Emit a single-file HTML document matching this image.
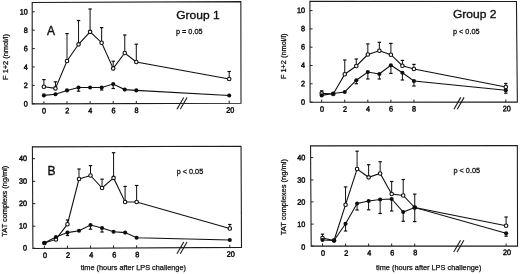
<!DOCTYPE html>
<html><head><meta charset="utf-8"><title>Figure</title>
<style>
html,body{margin:0;padding:0;background:#fff;}
body{width:520px;height:274px;overflow:hidden;}
svg{display:block;}
text{font-family:"Liberation Sans",sans-serif;fill:#111;stroke:#111;stroke-width:0.42px;}
.tk{font-size:7.8px;stroke-width:0.48px;}
.ax{font-size:7.35px;stroke-width:0.25px;}
.p{font-size:7.9px;stroke-width:0.3px;}
.grp{font-size:11.8px;stroke-width:0.34px;}
.lab{font-size:12px;stroke-width:0.38px;}
.ay{font-size:7.2px;stroke-width:0.27px;}
</style></head><body>
<svg width="520" height="274" viewBox="0 0 520 274">
<rect width="520" height="274" fill="#fff"/>
<defs><filter id="soft" x="0" y="0" width="520" height="274" filterUnits="userSpaceOnUse"><feGaussianBlur stdDeviation="0.32"/></filter></defs>
<g filter="url(#soft)">
<polygon points="32.2,2.45 240.85,1.65 241,103.2 32.2,103.9" fill="none" stroke="#1c1c1c" stroke-width="1.08"/>
<line x1="176.95" y1="109.3" x2="183.75" y2="97.5" stroke="#1a1a1a" stroke-width="1.1"/>
<line x1="180.25" y1="109.3" x2="187.05" y2="97.5" stroke="#1a1a1a" stroke-width="1.1"/>
<line x1="32.2" y1="103.8" x2="34.8" y2="103.8" stroke="#222" stroke-width="1"/>
<text transform="translate(27.9,106.5) rotate(0.05) scale(0.93,1)" text-anchor="end" class="tk">0</text>
<line x1="32.2" y1="85.4" x2="34.8" y2="85.4" stroke="#222" stroke-width="1"/>
<text transform="translate(27.9,88.1) rotate(0.05) scale(0.93,1)" text-anchor="end" class="tk">2</text>
<line x1="32.2" y1="67" x2="34.8" y2="67" stroke="#222" stroke-width="1"/>
<text transform="translate(27.9,69.7) rotate(0.05) scale(0.93,1)" text-anchor="end" class="tk">4</text>
<line x1="32.2" y1="48.6" x2="34.8" y2="48.6" stroke="#222" stroke-width="1"/>
<text transform="translate(27.9,51.3) rotate(0.05) scale(0.93,1)" text-anchor="end" class="tk">6</text>
<line x1="32.2" y1="30.2" x2="34.8" y2="30.2" stroke="#222" stroke-width="1"/>
<text transform="translate(27.9,32.9) rotate(0.05) scale(0.93,1)" text-anchor="end" class="tk">8</text>
<line x1="32.2" y1="11.8" x2="34.8" y2="11.8" stroke="#222" stroke-width="1"/>
<text transform="translate(27.9,14.5) rotate(0.05) scale(0.93,1)" text-anchor="end" class="tk">10</text>
<line x1="43.9" y1="103.86" x2="43.9" y2="101.26" stroke="#222" stroke-width="1"/>
<text transform="translate(44.1,113.41) rotate(0.05) scale(0.93,1)" text-anchor="middle" class="tk">0</text>
<line x1="67" y1="103.78" x2="67" y2="101.18" stroke="#222" stroke-width="1"/>
<text transform="translate(67.2,113.33) rotate(0.05) scale(0.93,1)" text-anchor="middle" class="tk">2</text>
<line x1="90.1" y1="103.71" x2="90.1" y2="101.11" stroke="#222" stroke-width="1"/>
<text transform="translate(90.3,113.26) rotate(0.05) scale(0.93,1)" text-anchor="middle" class="tk">4</text>
<line x1="113.2" y1="103.63" x2="113.2" y2="101.03" stroke="#222" stroke-width="1"/>
<text transform="translate(113.4,113.18) rotate(0.05) scale(0.93,1)" text-anchor="middle" class="tk">6</text>
<line x1="136.3" y1="103.55" x2="136.3" y2="100.95" stroke="#222" stroke-width="1"/>
<text transform="translate(136.5,113.1) rotate(0.05) scale(0.93,1)" text-anchor="middle" class="tk">8</text>
<line x1="229.2" y1="103.24" x2="229.2" y2="100.64" stroke="#222" stroke-width="1"/>
<text transform="translate(230.2,112.79) rotate(0.05) scale(0.93,1)" text-anchor="middle" class="tk">20</text>
<line x1="43.9" y1="86.7" x2="43.9" y2="79.6" stroke="#111" stroke-width="1.0"/>
<line x1="42.2" y1="79.6" x2="45.6" y2="79.6" stroke="#111" stroke-width="1.2"/>
<line x1="55.45" y1="88.4" x2="55.45" y2="81.8" stroke="#111" stroke-width="1.0"/>
<line x1="53.75" y1="81.8" x2="57.15" y2="81.8" stroke="#111" stroke-width="1.2"/>
<line x1="67" y1="61" x2="67" y2="33.6" stroke="#111" stroke-width="1.0"/>
<line x1="65.3" y1="33.6" x2="68.7" y2="33.6" stroke="#111" stroke-width="1.2"/>
<line x1="78.55" y1="44.3" x2="78.55" y2="20.5" stroke="#111" stroke-width="1.0"/>
<line x1="76.85" y1="20.5" x2="80.25" y2="20.5" stroke="#111" stroke-width="1.2"/>
<line x1="90.1" y1="31.8" x2="90.1" y2="9" stroke="#111" stroke-width="1.0"/>
<line x1="88.4" y1="9" x2="91.8" y2="9" stroke="#111" stroke-width="1.2"/>
<line x1="101.65" y1="42.7" x2="101.65" y2="27.6" stroke="#111" stroke-width="1.0"/>
<line x1="99.95" y1="27.6" x2="103.35" y2="27.6" stroke="#111" stroke-width="1.2"/>
<line x1="113.2" y1="68.4" x2="113.2" y2="61.3" stroke="#111" stroke-width="1.0"/>
<line x1="111.5" y1="61.3" x2="114.9" y2="61.3" stroke="#111" stroke-width="1.2"/>
<line x1="124.75" y1="53" x2="124.75" y2="35" stroke="#111" stroke-width="1.0"/>
<line x1="123.05" y1="35" x2="126.45" y2="35" stroke="#111" stroke-width="1.2"/>
<line x1="136.3" y1="62" x2="136.3" y2="44.2" stroke="#111" stroke-width="1.0"/>
<line x1="134.6" y1="44.2" x2="138" y2="44.2" stroke="#111" stroke-width="1.2"/>
<line x1="229.2" y1="79" x2="229.2" y2="71.5" stroke="#111" stroke-width="1.0"/>
<line x1="227.5" y1="71.5" x2="230.9" y2="71.5" stroke="#111" stroke-width="1.2"/>
<polyline points="43.9,86.7 55.45,88.4 67,61 78.55,44.3 90.1,31.8 101.65,42.7 113.2,68.4 124.75,53 136.3,62 229.2,79" fill="none" stroke="#111" stroke-width="1.08"/>
<circle cx="43.9" cy="86.7" r="1.75" fill="#fff" stroke="#111" stroke-width="1.15"/>
<circle cx="55.45" cy="88.4" r="1.75" fill="#fff" stroke="#111" stroke-width="1.15"/>
<circle cx="67" cy="61" r="1.75" fill="#fff" stroke="#111" stroke-width="1.15"/>
<circle cx="78.55" cy="44.3" r="1.75" fill="#fff" stroke="#111" stroke-width="1.15"/>
<circle cx="90.1" cy="31.8" r="1.75" fill="#fff" stroke="#111" stroke-width="1.15"/>
<circle cx="101.65" cy="42.7" r="1.75" fill="#fff" stroke="#111" stroke-width="1.15"/>
<circle cx="113.2" cy="68.4" r="1.75" fill="#fff" stroke="#111" stroke-width="1.15"/>
<circle cx="124.75" cy="53" r="1.75" fill="#fff" stroke="#111" stroke-width="1.15"/>
<circle cx="136.3" cy="62" r="1.75" fill="#fff" stroke="#111" stroke-width="1.15"/>
<circle cx="229.2" cy="79" r="1.75" fill="#fff" stroke="#111" stroke-width="1.15"/>
<line x1="78.55" y1="87.5" x2="78.55" y2="91.2" stroke="#111" stroke-width="1.0"/>
<line x1="76.85" y1="91.2" x2="80.25" y2="91.2" stroke="#111" stroke-width="1.2"/>
<line x1="101.65" y1="87.5" x2="101.65" y2="90" stroke="#111" stroke-width="1.0"/>
<line x1="99.95" y1="90" x2="103.35" y2="90" stroke="#111" stroke-width="1.2"/>
<line x1="113.2" y1="84.1" x2="113.2" y2="88.5" stroke="#111" stroke-width="1.0"/>
<line x1="111.5" y1="88.5" x2="114.9" y2="88.5" stroke="#111" stroke-width="1.2"/>
<polyline points="43.9,95.4 55.45,94.3 67,90.4 78.55,87.5 90.1,87.5 101.65,87.5 113.2,84.1 124.75,89.6 136.3,90.4 229.2,95.5" fill="none" stroke="#111" stroke-width="1.08"/>
<circle cx="43.9" cy="95.4" r="2.05" fill="#111"/>
<circle cx="55.45" cy="94.3" r="2.05" fill="#111"/>
<circle cx="67" cy="90.4" r="2.05" fill="#111"/>
<circle cx="78.55" cy="87.5" r="2.05" fill="#111"/>
<circle cx="90.1" cy="87.5" r="2.05" fill="#111"/>
<circle cx="101.65" cy="87.5" r="2.05" fill="#111"/>
<circle cx="113.2" cy="84.1" r="2.05" fill="#111"/>
<circle cx="124.75" cy="89.6" r="2.05" fill="#111"/>
<circle cx="136.3" cy="90.4" r="2.05" fill="#111"/>
<circle cx="229.2" cy="95.5" r="2.05" fill="#111"/>
<text x="176.2" y="18.6" class="grp" textLength="43.4" lengthAdjust="spacingAndGlyphs">Group 1</text>
<text x="176" y="34" class="p" textLength="26.5" lengthAdjust="spacingAndGlyphs">p = 0.05</text>
<text x="46.9" y="34.5" class="lab">A</text>
<text transform="translate(7.6,57) rotate(-90)" text-anchor="middle" class="ay" style="font-size:7.42px">F 1+2 (nmol/l)</text>
<polygon points="309.9,1.35 516.45,1.55 517.35,102.15 310.1,102.3" fill="none" stroke="#1c1c1c" stroke-width="1.08"/>
<line x1="453.95" y1="109.19" x2="460.75" y2="97.39" stroke="#1a1a1a" stroke-width="1.1"/>
<line x1="457.25" y1="109.19" x2="464.05" y2="97.39" stroke="#1a1a1a" stroke-width="1.1"/>
<line x1="310.1" y1="102.1" x2="312.7" y2="102.1" stroke="#222" stroke-width="1"/>
<text transform="translate(305,104.7) rotate(0.05) scale(0.93,1)" text-anchor="end" class="tk">0</text>
<line x1="310.06" y1="83.8" x2="312.66" y2="83.8" stroke="#222" stroke-width="1"/>
<text transform="translate(305,86.3) rotate(0.05) scale(0.93,1)" text-anchor="end" class="tk">2</text>
<line x1="310.03" y1="65.5" x2="312.63" y2="65.5" stroke="#222" stroke-width="1"/>
<text transform="translate(305,67.8) rotate(0.05) scale(0.93,1)" text-anchor="end" class="tk">4</text>
<line x1="309.99" y1="47.2" x2="312.59" y2="47.2" stroke="#222" stroke-width="1"/>
<text transform="translate(305,49.5) rotate(0.05) scale(0.93,1)" text-anchor="end" class="tk">6</text>
<line x1="309.95" y1="28.9" x2="312.55" y2="28.9" stroke="#222" stroke-width="1"/>
<text transform="translate(305,31.2) rotate(0.05) scale(0.93,1)" text-anchor="end" class="tk">8</text>
<line x1="309.92" y1="10.6" x2="312.52" y2="10.6" stroke="#222" stroke-width="1"/>
<text transform="translate(305,12.9) rotate(0.05) scale(0.93,1)" text-anchor="end" class="tk">10</text>
<line x1="321.7" y1="102.29" x2="321.7" y2="99.69" stroke="#222" stroke-width="1"/>
<text transform="translate(321.9,111.72) rotate(0.05) scale(0.93,1)" text-anchor="middle" class="tk">0</text>
<line x1="344.76" y1="102.27" x2="344.76" y2="99.67" stroke="#222" stroke-width="1"/>
<text transform="translate(344.96,111.67) rotate(0.05) scale(0.93,1)" text-anchor="middle" class="tk">2</text>
<line x1="367.82" y1="102.26" x2="367.82" y2="99.66" stroke="#222" stroke-width="1"/>
<text transform="translate(368.02,111.61) rotate(0.05) scale(0.93,1)" text-anchor="middle" class="tk">4</text>
<line x1="390.88" y1="102.24" x2="390.88" y2="99.64" stroke="#222" stroke-width="1"/>
<text transform="translate(391.08,111.56) rotate(0.05) scale(0.93,1)" text-anchor="middle" class="tk">6</text>
<line x1="413.94" y1="102.22" x2="413.94" y2="99.62" stroke="#222" stroke-width="1"/>
<text transform="translate(414.14,111.5) rotate(0.05) scale(0.93,1)" text-anchor="middle" class="tk">8</text>
<line x1="505.8" y1="102.16" x2="505.8" y2="99.56" stroke="#222" stroke-width="1"/>
<text transform="translate(506.8,111.28) rotate(0.05) scale(0.93,1)" text-anchor="middle" class="tk">20</text>
<line x1="321.7" y1="93.4" x2="321.7" y2="90.8" stroke="#111" stroke-width="1.0"/>
<line x1="320" y1="90.8" x2="323.4" y2="90.8" stroke="#111" stroke-width="1.2"/>
<line x1="344.76" y1="74.2" x2="344.76" y2="60" stroke="#111" stroke-width="1.0"/>
<line x1="343.06" y1="60" x2="346.46" y2="60" stroke="#111" stroke-width="1.2"/>
<line x1="356.29" y1="66" x2="356.29" y2="59" stroke="#111" stroke-width="1.0"/>
<line x1="354.59" y1="59" x2="357.99" y2="59" stroke="#111" stroke-width="1.2"/>
<line x1="367.82" y1="54.5" x2="367.82" y2="43.9" stroke="#111" stroke-width="1.0"/>
<line x1="366.12" y1="43.9" x2="369.52" y2="43.9" stroke="#111" stroke-width="1.2"/>
<line x1="379.35" y1="50.7" x2="379.35" y2="42.3" stroke="#111" stroke-width="1.0"/>
<line x1="377.65" y1="42.3" x2="381.05" y2="42.3" stroke="#111" stroke-width="1.2"/>
<line x1="390.88" y1="54.7" x2="390.88" y2="43.4" stroke="#111" stroke-width="1.0"/>
<line x1="389.18" y1="43.4" x2="392.58" y2="43.4" stroke="#111" stroke-width="1.2"/>
<line x1="402.41" y1="65.7" x2="402.41" y2="60.4" stroke="#111" stroke-width="1.0"/>
<line x1="400.71" y1="60.4" x2="404.11" y2="60.4" stroke="#111" stroke-width="1.2"/>
<line x1="413.94" y1="69" x2="413.94" y2="64.4" stroke="#111" stroke-width="1.0"/>
<line x1="412.24" y1="64.4" x2="415.64" y2="64.4" stroke="#111" stroke-width="1.2"/>
<line x1="505.8" y1="87" x2="505.8" y2="83.5" stroke="#111" stroke-width="1.0"/>
<line x1="504.1" y1="83.5" x2="507.5" y2="83.5" stroke="#111" stroke-width="1.2"/>
<polyline points="321.7,93.4 333.23,94 344.76,74.2 356.29,66 367.82,54.5 379.35,50.7 390.88,54.7 402.41,65.7 413.94,69 505.8,87" fill="none" stroke="#111" stroke-width="1.08"/>
<circle cx="321.7" cy="93.4" r="1.75" fill="#fff" stroke="#111" stroke-width="1.15"/>
<circle cx="333.23" cy="94" r="1.75" fill="#fff" stroke="#111" stroke-width="1.15"/>
<circle cx="344.76" cy="74.2" r="1.75" fill="#fff" stroke="#111" stroke-width="1.15"/>
<circle cx="356.29" cy="66" r="1.75" fill="#fff" stroke="#111" stroke-width="1.15"/>
<circle cx="367.82" cy="54.5" r="1.75" fill="#fff" stroke="#111" stroke-width="1.15"/>
<circle cx="379.35" cy="50.7" r="1.75" fill="#fff" stroke="#111" stroke-width="1.15"/>
<circle cx="390.88" cy="54.7" r="1.75" fill="#fff" stroke="#111" stroke-width="1.15"/>
<circle cx="402.41" cy="65.7" r="1.75" fill="#fff" stroke="#111" stroke-width="1.15"/>
<circle cx="413.94" cy="69" r="1.75" fill="#fff" stroke="#111" stroke-width="1.15"/>
<circle cx="505.8" cy="87" r="1.75" fill="#fff" stroke="#111" stroke-width="1.15"/>
<line x1="356.29" y1="80.2" x2="356.29" y2="83.7" stroke="#111" stroke-width="1.0"/>
<line x1="354.59" y1="83.7" x2="357.99" y2="83.7" stroke="#111" stroke-width="1.2"/>
<line x1="367.82" y1="72" x2="367.82" y2="79" stroke="#111" stroke-width="1.0"/>
<line x1="366.12" y1="79" x2="369.52" y2="79" stroke="#111" stroke-width="1.2"/>
<line x1="379.35" y1="74" x2="379.35" y2="79" stroke="#111" stroke-width="1.0"/>
<line x1="377.65" y1="79" x2="381.05" y2="79" stroke="#111" stroke-width="1.2"/>
<line x1="390.88" y1="65.2" x2="390.88" y2="73.4" stroke="#111" stroke-width="1.0"/>
<line x1="389.18" y1="73.4" x2="392.58" y2="73.4" stroke="#111" stroke-width="1.2"/>
<line x1="402.41" y1="72.8" x2="402.41" y2="80" stroke="#111" stroke-width="1.0"/>
<line x1="400.71" y1="80" x2="404.11" y2="80" stroke="#111" stroke-width="1.2"/>
<line x1="413.94" y1="81" x2="413.94" y2="86" stroke="#111" stroke-width="1.0"/>
<line x1="412.24" y1="86" x2="415.64" y2="86" stroke="#111" stroke-width="1.2"/>
<line x1="505.8" y1="90.3" x2="505.8" y2="93.2" stroke="#111" stroke-width="1.0"/>
<line x1="504.1" y1="93.2" x2="507.5" y2="93.2" stroke="#111" stroke-width="1.2"/>
<polyline points="321.7,95.4 333.23,93.5 344.76,92 356.29,80.2 367.82,72 379.35,74 390.88,65.2 402.41,72.8 413.94,81 505.8,90.3" fill="none" stroke="#111" stroke-width="1.08"/>
<circle cx="321.7" cy="95.4" r="2.05" fill="#111"/>
<circle cx="333.23" cy="93.5" r="2.05" fill="#111"/>
<circle cx="344.76" cy="92" r="2.05" fill="#111"/>
<circle cx="356.29" cy="80.2" r="2.05" fill="#111"/>
<circle cx="367.82" cy="72" r="2.05" fill="#111"/>
<circle cx="379.35" cy="74" r="2.05" fill="#111"/>
<circle cx="390.88" cy="65.2" r="2.05" fill="#111"/>
<circle cx="402.41" cy="72.8" r="2.05" fill="#111"/>
<circle cx="413.94" cy="81" r="2.05" fill="#111"/>
<circle cx="505.8" cy="90.3" r="2.05" fill="#111"/>
<text x="452.9" y="18.0" class="grp" textLength="43.6" lengthAdjust="spacingAndGlyphs">Group 2</text>
<text x="453" y="33.5" class="p" textLength="26.5" lengthAdjust="spacingAndGlyphs">p &lt; 0.05</text>
<text transform="translate(285.8,56.3) rotate(-90)" text-anchor="middle" class="ay" style="font-size:7.36px">F 1+2 (nmol/l)</text>
<polygon points="32.4,146.9 241.05,146.25 241.5,247.4 32.9,248.5" fill="none" stroke="#1c1c1c" stroke-width="1.08"/>
<line x1="176.95" y1="253.81" x2="183.75" y2="242.01" stroke="#1a1a1a" stroke-width="1.1"/>
<line x1="180.25" y1="253.81" x2="187.05" y2="242.01" stroke="#1a1a1a" stroke-width="1.1"/>
<line x1="32.9" y1="248.2" x2="35.5" y2="248.2" stroke="#222" stroke-width="1"/>
<text transform="translate(27,250.6) rotate(0.05) scale(0.93,1)" text-anchor="end" class="tk">0</text>
<line x1="32.79" y1="226.2" x2="35.39" y2="226.2" stroke="#222" stroke-width="1"/>
<text transform="translate(27,228.6) rotate(0.05) scale(0.93,1)" text-anchor="end" class="tk">10</text>
<line x1="32.68" y1="203.6" x2="35.28" y2="203.6" stroke="#222" stroke-width="1"/>
<text transform="translate(27,206) rotate(0.05) scale(0.93,1)" text-anchor="end" class="tk">20</text>
<line x1="32.57" y1="181.4" x2="35.17" y2="181.4" stroke="#222" stroke-width="1"/>
<text transform="translate(27,183.8) rotate(0.05) scale(0.93,1)" text-anchor="end" class="tk">30</text>
<line x1="32.46" y1="158.7" x2="35.06" y2="158.7" stroke="#222" stroke-width="1"/>
<text transform="translate(27,161.1) rotate(0.05) scale(0.93,1)" text-anchor="end" class="tk">40</text>
<line x1="44.4" y1="248.44" x2="44.4" y2="245.84" stroke="#222" stroke-width="1"/>
<text transform="translate(45.05,257.88) rotate(0.05) scale(0.93,1)" text-anchor="middle" class="tk">0</text>
<line x1="67.46" y1="248.32" x2="67.46" y2="245.72" stroke="#222" stroke-width="1"/>
<text transform="translate(68.11,257.73) rotate(0.05) scale(0.93,1)" text-anchor="middle" class="tk">2</text>
<line x1="90.52" y1="248.2" x2="90.52" y2="245.6" stroke="#222" stroke-width="1"/>
<text transform="translate(91.17,257.59) rotate(0.05) scale(0.93,1)" text-anchor="middle" class="tk">4</text>
<line x1="113.58" y1="248.07" x2="113.58" y2="245.47" stroke="#222" stroke-width="1"/>
<text transform="translate(114.23,257.45) rotate(0.05) scale(0.93,1)" text-anchor="middle" class="tk">6</text>
<line x1="136.64" y1="247.95" x2="136.64" y2="245.35" stroke="#222" stroke-width="1"/>
<text transform="translate(137.29,257.3) rotate(0.05) scale(0.93,1)" text-anchor="middle" class="tk">8</text>
<line x1="229.8" y1="247.46" x2="229.8" y2="244.86" stroke="#222" stroke-width="1"/>
<text transform="translate(230.8,256.72) rotate(0.05) scale(0.93,1)" text-anchor="middle" class="tk">20</text>
<line x1="67.46" y1="224.2" x2="67.46" y2="220" stroke="#111" stroke-width="1.0"/>
<line x1="65.76" y1="220" x2="69.16" y2="220" stroke="#111" stroke-width="1.2"/>
<line x1="78.99" y1="179" x2="78.99" y2="169" stroke="#111" stroke-width="1.0"/>
<line x1="77.29" y1="169" x2="80.69" y2="169" stroke="#111" stroke-width="1.2"/>
<line x1="90.52" y1="175.5" x2="90.52" y2="165.6" stroke="#111" stroke-width="1.0"/>
<line x1="88.82" y1="165.6" x2="92.22" y2="165.6" stroke="#111" stroke-width="1.2"/>
<line x1="102.05" y1="188" x2="102.05" y2="179.2" stroke="#111" stroke-width="1.0"/>
<line x1="100.35" y1="179.2" x2="103.75" y2="179.2" stroke="#111" stroke-width="1.2"/>
<line x1="113.58" y1="177.9" x2="113.58" y2="152.7" stroke="#111" stroke-width="1.0"/>
<line x1="111.88" y1="152.7" x2="115.28" y2="152.7" stroke="#111" stroke-width="1.2"/>
<line x1="125.11" y1="202" x2="125.11" y2="186.4" stroke="#111" stroke-width="1.0"/>
<line x1="123.41" y1="186.4" x2="126.81" y2="186.4" stroke="#111" stroke-width="1.2"/>
<line x1="136.64" y1="202" x2="136.64" y2="185.5" stroke="#111" stroke-width="1.0"/>
<line x1="134.94" y1="185.5" x2="138.34" y2="185.5" stroke="#111" stroke-width="1.2"/>
<line x1="229.8" y1="228.5" x2="229.8" y2="224.5" stroke="#111" stroke-width="1.0"/>
<line x1="228.1" y1="224.5" x2="231.5" y2="224.5" stroke="#111" stroke-width="1.2"/>
<polyline points="44.4,243 55.93,239.4 67.46,224.2 78.99,179 90.52,175.5 102.05,188 113.58,177.9 125.11,202 136.64,202 229.8,228.5" fill="none" stroke="#111" stroke-width="1.08"/>
<circle cx="44.4" cy="243" r="1.75" fill="#fff" stroke="#111" stroke-width="1.15"/>
<circle cx="55.93" cy="239.4" r="1.75" fill="#fff" stroke="#111" stroke-width="1.15"/>
<circle cx="67.46" cy="224.2" r="1.75" fill="#fff" stroke="#111" stroke-width="1.15"/>
<circle cx="78.99" cy="179" r="1.75" fill="#fff" stroke="#111" stroke-width="1.15"/>
<circle cx="90.52" cy="175.5" r="1.75" fill="#fff" stroke="#111" stroke-width="1.15"/>
<circle cx="102.05" cy="188" r="1.75" fill="#fff" stroke="#111" stroke-width="1.15"/>
<circle cx="113.58" cy="177.9" r="1.75" fill="#fff" stroke="#111" stroke-width="1.15"/>
<circle cx="125.11" cy="202" r="1.75" fill="#fff" stroke="#111" stroke-width="1.15"/>
<circle cx="136.64" cy="202" r="1.75" fill="#fff" stroke="#111" stroke-width="1.15"/>
<circle cx="229.8" cy="228.5" r="1.75" fill="#fff" stroke="#111" stroke-width="1.15"/>
<line x1="67.46" y1="232.6" x2="67.46" y2="235.5" stroke="#111" stroke-width="1.0"/>
<line x1="65.76" y1="235.5" x2="69.16" y2="235.5" stroke="#111" stroke-width="1.2"/>
<line x1="90.52" y1="225" x2="90.52" y2="229.2" stroke="#111" stroke-width="1.0"/>
<line x1="88.82" y1="229.2" x2="92.22" y2="229.2" stroke="#111" stroke-width="1.2"/>
<line x1="102.05" y1="228" x2="102.05" y2="232" stroke="#111" stroke-width="1.0"/>
<line x1="100.35" y1="232" x2="103.75" y2="232" stroke="#111" stroke-width="1.2"/>
<polyline points="44.4,243 55.93,237 67.46,232.6 78.99,230.8 90.52,225 102.05,228 113.58,231.8 125.11,232.6 136.64,237.8 229.8,240" fill="none" stroke="#111" stroke-width="1.08"/>
<circle cx="44.4" cy="243" r="2.05" fill="#111"/>
<circle cx="55.93" cy="237" r="2.05" fill="#111"/>
<circle cx="67.46" cy="232.6" r="2.05" fill="#111"/>
<circle cx="78.99" cy="230.8" r="2.05" fill="#111"/>
<circle cx="90.52" cy="225" r="2.05" fill="#111"/>
<circle cx="102.05" cy="228" r="2.05" fill="#111"/>
<circle cx="113.58" cy="231.8" r="2.05" fill="#111"/>
<circle cx="125.11" cy="232.6" r="2.05" fill="#111"/>
<circle cx="136.64" cy="237.8" r="2.05" fill="#111"/>
<circle cx="229.8" cy="240" r="2.05" fill="#111"/>
<text x="176.7" y="173.5" class="p" textLength="26.5" lengthAdjust="spacingAndGlyphs">p &lt; 0.05</text>
<text x="47.4" y="174.9" class="lab">B</text>
<text transform="translate(7.4,201.2) rotate(-90)" text-anchor="middle" class="ay" style="font-size:7.4px">TAT complexs (ng/ml)</text>
<text x="133.3" y="270" text-anchor="middle" class="ax">time (hours after LPS challenge)</text>
<polygon points="310.55,145.9 517.35,145.65 517.55,246.15 311.2,246.15" fill="none" stroke="#1c1c1c" stroke-width="1.08"/>
<line x1="453.75" y1="252.05" x2="460.55" y2="240.25" stroke="#1a1a1a" stroke-width="1.1"/>
<line x1="457.05" y1="252.05" x2="463.85" y2="240.25" stroke="#1a1a1a" stroke-width="1.1"/>
<line x1="311.2" y1="246" x2="313.8" y2="246" stroke="#222" stroke-width="1"/>
<text transform="translate(305.3,249.7) rotate(0.05) scale(0.93,1)" text-anchor="end" class="tk">0</text>
<line x1="311.06" y1="224.1" x2="313.66" y2="224.1" stroke="#222" stroke-width="1"/>
<text transform="translate(305.3,227) rotate(0.05) scale(0.93,1)" text-anchor="end" class="tk">10</text>
<line x1="310.91" y1="201.9" x2="313.51" y2="201.9" stroke="#222" stroke-width="1"/>
<text transform="translate(305.3,204.65) rotate(0.05) scale(0.93,1)" text-anchor="end" class="tk">20</text>
<line x1="310.77" y1="179.9" x2="313.37" y2="179.9" stroke="#222" stroke-width="1"/>
<text transform="translate(305.3,182.65) rotate(0.05) scale(0.93,1)" text-anchor="end" class="tk">30</text>
<line x1="310.63" y1="157.6" x2="313.23" y2="157.6" stroke="#222" stroke-width="1"/>
<text transform="translate(305.3,160.35) rotate(0.05) scale(0.93,1)" text-anchor="end" class="tk">40</text>
<line x1="322.5" y1="246.15" x2="322.5" y2="243.55" stroke="#222" stroke-width="1"/>
<text transform="translate(323.1,255.75) rotate(0.05) scale(0.93,1)" text-anchor="middle" class="tk">0</text>
<line x1="345.56" y1="246.15" x2="345.56" y2="243.55" stroke="#222" stroke-width="1"/>
<text transform="translate(346.16,255.64) rotate(0.05) scale(0.93,1)" text-anchor="middle" class="tk">2</text>
<line x1="368.62" y1="246.15" x2="368.62" y2="243.55" stroke="#222" stroke-width="1"/>
<text transform="translate(369.22,255.54) rotate(0.05) scale(0.93,1)" text-anchor="middle" class="tk">4</text>
<line x1="391.68" y1="246.15" x2="391.68" y2="243.55" stroke="#222" stroke-width="1"/>
<text transform="translate(392.28,255.43) rotate(0.05) scale(0.93,1)" text-anchor="middle" class="tk">6</text>
<line x1="414.74" y1="246.15" x2="414.74" y2="243.55" stroke="#222" stroke-width="1"/>
<text transform="translate(415.34,255.32) rotate(0.05) scale(0.93,1)" text-anchor="middle" class="tk">8</text>
<line x1="506.1" y1="246.15" x2="506.1" y2="243.55" stroke="#222" stroke-width="1"/>
<text transform="translate(507.1,254.9) rotate(0.05) scale(0.93,1)" text-anchor="middle" class="tk">20</text>
<line x1="322.5" y1="238" x2="322.5" y2="234.2" stroke="#111" stroke-width="1.0"/>
<line x1="320.8" y1="234.2" x2="324.2" y2="234.2" stroke="#111" stroke-width="1.2"/>
<line x1="345.56" y1="204.7" x2="345.56" y2="186.9" stroke="#111" stroke-width="1.0"/>
<line x1="343.86" y1="186.9" x2="347.26" y2="186.9" stroke="#111" stroke-width="1.2"/>
<line x1="357.09" y1="169" x2="357.09" y2="151.2" stroke="#111" stroke-width="1.0"/>
<line x1="355.39" y1="151.2" x2="358.79" y2="151.2" stroke="#111" stroke-width="1.2"/>
<line x1="368.62" y1="177.3" x2="368.62" y2="164.7" stroke="#111" stroke-width="1.0"/>
<line x1="366.92" y1="164.7" x2="370.32" y2="164.7" stroke="#111" stroke-width="1.2"/>
<line x1="380.15" y1="173.5" x2="380.15" y2="161.7" stroke="#111" stroke-width="1.0"/>
<line x1="378.45" y1="161.7" x2="381.85" y2="161.7" stroke="#111" stroke-width="1.2"/>
<line x1="391.68" y1="194" x2="391.68" y2="181.5" stroke="#111" stroke-width="1.0"/>
<line x1="389.98" y1="181.5" x2="393.38" y2="181.5" stroke="#111" stroke-width="1.2"/>
<line x1="403.21" y1="195.5" x2="403.21" y2="179.5" stroke="#111" stroke-width="1.0"/>
<line x1="401.51" y1="179.5" x2="404.91" y2="179.5" stroke="#111" stroke-width="1.2"/>
<line x1="414.74" y1="207.5" x2="414.74" y2="194.1" stroke="#111" stroke-width="1.0"/>
<line x1="413.04" y1="194.1" x2="416.44" y2="194.1" stroke="#111" stroke-width="1.2"/>
<line x1="506.1" y1="225.7" x2="506.1" y2="217" stroke="#111" stroke-width="1.0"/>
<line x1="504.4" y1="217" x2="507.8" y2="217" stroke="#111" stroke-width="1.2"/>
<polyline points="322.5,238 334.03,240.5 345.56,204.7 357.09,169 368.62,177.3 380.15,173.5 391.68,194 403.21,195.5 414.74,207.5 506.1,225.7" fill="none" stroke="#111" stroke-width="1.08"/>
<circle cx="322.5" cy="238" r="1.75" fill="#fff" stroke="#111" stroke-width="1.15"/>
<circle cx="334.03" cy="240.5" r="1.75" fill="#fff" stroke="#111" stroke-width="1.15"/>
<circle cx="345.56" cy="204.7" r="1.75" fill="#fff" stroke="#111" stroke-width="1.15"/>
<circle cx="357.09" cy="169" r="1.75" fill="#fff" stroke="#111" stroke-width="1.15"/>
<circle cx="368.62" cy="177.3" r="1.75" fill="#fff" stroke="#111" stroke-width="1.15"/>
<circle cx="380.15" cy="173.5" r="1.75" fill="#fff" stroke="#111" stroke-width="1.15"/>
<circle cx="391.68" cy="194" r="1.75" fill="#fff" stroke="#111" stroke-width="1.15"/>
<circle cx="403.21" cy="195.5" r="1.75" fill="#fff" stroke="#111" stroke-width="1.15"/>
<circle cx="414.74" cy="207.5" r="1.75" fill="#fff" stroke="#111" stroke-width="1.15"/>
<circle cx="506.1" cy="225.7" r="1.75" fill="#fff" stroke="#111" stroke-width="1.15"/>
<line x1="345.56" y1="223.7" x2="345.56" y2="231" stroke="#111" stroke-width="1.0"/>
<line x1="343.86" y1="231" x2="347.26" y2="231" stroke="#111" stroke-width="1.2"/>
<line x1="357.09" y1="203.5" x2="357.09" y2="210" stroke="#111" stroke-width="1.0"/>
<line x1="355.39" y1="210" x2="358.79" y2="210" stroke="#111" stroke-width="1.2"/>
<line x1="368.62" y1="201" x2="368.62" y2="209.8" stroke="#111" stroke-width="1.0"/>
<line x1="366.92" y1="209.8" x2="370.32" y2="209.8" stroke="#111" stroke-width="1.2"/>
<line x1="380.15" y1="199.5" x2="380.15" y2="213.5" stroke="#111" stroke-width="1.0"/>
<line x1="378.45" y1="213.5" x2="381.85" y2="213.5" stroke="#111" stroke-width="1.2"/>
<line x1="391.68" y1="199" x2="391.68" y2="211" stroke="#111" stroke-width="1.0"/>
<line x1="389.98" y1="211" x2="393.38" y2="211" stroke="#111" stroke-width="1.2"/>
<line x1="403.21" y1="212" x2="403.21" y2="221.3" stroke="#111" stroke-width="1.0"/>
<line x1="401.51" y1="221.3" x2="404.91" y2="221.3" stroke="#111" stroke-width="1.2"/>
<line x1="414.74" y1="207.5" x2="414.74" y2="221.6" stroke="#111" stroke-width="1.0"/>
<line x1="413.04" y1="221.6" x2="416.44" y2="221.6" stroke="#111" stroke-width="1.2"/>
<line x1="506.1" y1="233.2" x2="506.1" y2="236.2" stroke="#111" stroke-width="1.0"/>
<line x1="504.4" y1="236.2" x2="507.8" y2="236.2" stroke="#111" stroke-width="1.2"/>
<polyline points="322.5,240 334.03,240.5 345.56,223.7 357.09,203.5 368.62,201 380.15,199.5 391.68,199 403.21,212 414.74,207.5 506.1,233.2" fill="none" stroke="#111" stroke-width="1.08"/>
<circle cx="322.5" cy="240" r="2.05" fill="#111"/>
<circle cx="334.03" cy="240.5" r="2.05" fill="#111"/>
<circle cx="345.56" cy="223.7" r="2.05" fill="#111"/>
<circle cx="357.09" cy="203.5" r="2.05" fill="#111"/>
<circle cx="368.62" cy="201" r="2.05" fill="#111"/>
<circle cx="380.15" cy="199.5" r="2.05" fill="#111"/>
<circle cx="391.68" cy="199" r="2.05" fill="#111"/>
<circle cx="403.21" cy="212" r="2.05" fill="#111"/>
<circle cx="414.74" cy="207.5" r="2.05" fill="#111"/>
<circle cx="506.1" cy="233.2" r="2.05" fill="#111"/>
<text x="453.5" y="172.5" class="p" textLength="26.5" lengthAdjust="spacingAndGlyphs">p &lt; 0.05</text>
<text transform="translate(286,197.2) rotate(-90)" text-anchor="middle" class="ay" style="font-size:7.5px">TAT complexes (ng/ml)</text>
<text x="428.7" y="269.5" text-anchor="middle" class="ax">time (hours after LPS challenge)</text>
</g>
</svg>
</body></html>
